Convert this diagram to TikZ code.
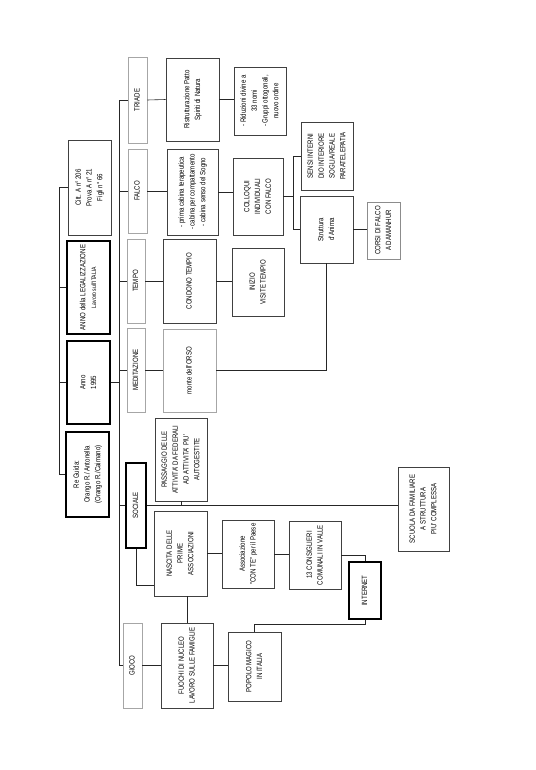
\documentclass[tikz,border=0pt]{standalone}
\usepackage{fontspec}
\setmainfont{Liberation Sans}[FakeStretch=0.8]
\usepackage{graphicx}
\usetikzlibrary{calc}

\newcommand{\vt}[1]{\rotatebox{90}{\begin{tabular}{@{}c@{}}#1\end{tabular}}}

\begin{document}
\begin{tikzpicture}[
  x=1pt, y=-1pt,
  font=\fontsize{7.6}{10.8}\selectfont,
  cell/.style={draw=black!75, line width=0.6pt, fill=white, inner sep=0pt},
  key/.style={cell, draw=black, line width=1.4pt},
  tag/.style={cell, draw=black!35},
  link/.style={line width=0.6pt, black!85},
]
\useasboundingbox (0,0) rectangle (535,770);

% ---------- Riga principale ----------
\node[cell, minimum width=43pt, minimum height=95pt] (citt) at (89.5,187.5)
  {\vt{Citt. A n° 206\\Prova A n° 21\\Figli n° 66}};
\node[key, minimum width=43pt, minimum height=93pt] (legal) at (88.5,287.5)
  {\vt{ANNO della LEGALIZZAZIONE\\\fontsize{6.4}{9.5}\selectfont Lavoro sull'ITALIA}};
\node[key, minimum width=43pt, minimum height=83pt] (anno) at (88.5,382.5)
  {\vt{Anno\\1995}};
\node[key, minimum width=43pt, minimum height=85pt] (guida) at (87.5,474.5)
  {\vt{Re Guida:\\Orango R./ Antonella\\(Orango R./Caimano)}};

% ---------- Rami ----------
\node[tag, minimum width=19pt, minimum height=86pt] (triade) at (137.5,100) {\vt{TRIADE}};
\node[tag, minimum width=19pt, minimum height=84pt] (falco) at (137.5,191) {\vt{FALCO}};
\node[tag, minimum width=18pt, minimum height=84pt] (tempo) at (136,281) {\vt{TEMPO}};
\node[tag, minimum width=18pt, minimum height=84pt] (medit) at (136,370) {\vt{MEDITAZIONE}};
\node[key, minimum width=20pt, minimum height=85pt] (sociale) at (136,505.5) {\vt{SOCIALE}};
\node[tag, minimum width=19pt, minimum height=85pt] (gioco) at (132.5,665.5) {\vt{GIOCO}};

% ---------- Secondo livello ----------
\node[cell, minimum width=53pt, minimum height=83pt] (ristr) at (192.5,99.5)
  {\vt{Ristrutturazione Patto\\Spiriti di Natura}};
\node[cell, minimum width=51pt, minimum height=86pt] (cabina) at (192.5,192)
  {\vt{- prima cabina terapeutica\\- cabina per compattamento\\- cabina senso del Sogno}};
\node[cell, minimum width=53pt, minimum height=84pt] (condono) at (189.5,281)
  {\vt{CONDONO TEMPIO}};
\node[tag, minimum width=53pt, minimum height=83pt] (monte) at (189.5,370.5)
  {\vt{monte dell'ORSO}};
\node[cell, minimum width=52pt, minimum height=83pt] (passaggio) at (181,459.5)
  {\vt{PASSAGGIO DELLE\\ATTIVITA' DA FEDERALI\\AD ATTIVITA' PIU'\\AUTOGESTITE}};
\node[cell, minimum width=53pt, minimum height=85pt] (nascita) at (180.5,553.5)
  {\vt{NASCITA DELLE\\PRIME\\ASSOCIAZIONI}};
\node[cell, minimum width=52pt, minimum height=85pt] (fuochi) at (187,665.5)
  {\vt{FUOCHI DI NUCLEO\\LAVORO SULLE FAMIGLIE}};

% ---------- Terzo livello ----------
\node[cell, minimum width=52pt, minimum height=68pt] (riduz) at (260,101)
  {\vt{- Riduzioni divine a\\33 nomi\\- Gruppi ottogonali,\\nuovo ordine}};
\node[cell, minimum width=50pt, minimum height=77pt] (colloqui) at (258,196.5)
  {\vt{COLLOQUI\\INDIVIDUALI\\CON FALCO}};
\node[cell, minimum width=52pt, minimum height=68pt] (inizio) at (258,282)
  {\vt{INIZIO\\VISITE TEMPIO}};
\node[cell, minimum width=52pt, minimum height=68pt] (assoc) at (248,554)
  {\vt{Associazione\\"CON TE" per il Paese}};
\node[cell, minimum width=53pt, minimum height=69pt] (popolo) at (254.5,666.5)
  {\vt{POPOLO MAGICO\\IN ITALIA}};

% ---------- Quarto livello ----------
\node[cell, minimum width=52pt, minimum height=68pt] (consig) at (315,555)
  {\vt{13 CONSIGLIERI\\COMUNALI IN VALLE}};
\node[cell, minimum width=52pt, minimum height=68pt] (sensi) at (327,156)
  {\vt{SENSI INTERNI\\DIO INTERIORE\\SOGLIA/REALE\\PARATELEPATIA}};
\node[cell, minimum width=53pt, minimum height=67pt] (strutt) at (326.5,229.5)
  {\vt{Struttura\\d'Anima}};
\node[cell, draw=black!45, line width=1pt, minimum width=33pt, minimum height=57pt] (corsi) at (383.5,230.5)
  {\vt{CORSI DI FALCO\\A DAMANHUR}};
\node[key, minimum width=32pt, minimum height=57pt] (internet) at (365,590.5)
  {\vt{INTERNET}};
\node[cell, minimum width=51pt, minimum height=84pt] (scuola) at (423.5,509)
  {\vt{SCUOLA DA FAMILIARE\\A STRUTTURA\\PIU' COMPLESSA}};

% ---------- Collegamenti ----------
\coordinate (lbus) at (59,0);
\coordinate (rbus) at (119,0);
\draw[link] (citt.west) -- (citt.west -| lbus) -- (guida.west -| lbus) -- (guida.west);
\draw[link] (legal.west) -- (legal.west -| lbus);
\draw[link] (anno.west) -- (anno.west -| lbus);
\draw[link] (anno.east) -- (anno.east -| rbus);

\draw[link] (triade.west) -- (triade.west -| rbus) -- (gioco.west -| rbus) -- (gioco.west);
\draw[link] (falco.west) -- (falco.west -| rbus);
\draw[link] (tempo.west) -- (tempo.west -| rbus);
\draw[link] (medit.west) -- (medit.west -| rbus);
\draw[link] (sociale.west) -- (sociale.west -| rbus);

\draw[link] (triade.east) -- (ristr.west);
\draw[link] (ristr.east) -- (ristr.east -| riduz.west);
\draw[link] (falco.east) -- (falco.east -| cabina.west);
\draw[link] (cabina.east) -- (cabina.east -| colloqui.west);
\draw[link] (sensi.west) -| ($(colloqui.east)+(10,0)$) |- (strutt.west);
\draw[link] (colloqui.east) -- ++(10,0);
\draw[link] (strutt.east) -- (strutt.east -| corsi.west);
\draw[link] (tempo.east) -- (condono.west);
\draw[link] (condono.east) -- (condono.east -| inizio.west);
\draw[link] (medit.east) -- (medit.east -| monte.west);
\draw[link] (monte.east) -| (strutt.south);

\draw[link] (sociale.east) -- (sociale.east -| scuola.west);
\draw[link] (passaggio.south) -- (passaggio.south |- sociale.east);
\draw[link] (sociale.south) |- ([yshift=11pt]nascita.south west);
\draw[link] (nascita.east) -- (nascita.east -| assoc.west);
\draw[link] (assoc.east) -- (assoc.east -| consig.west);
\draw[link] (consig.east) -| (internet.north);
\draw[link] (fuochi.north) -- (fuochi.north |- nascita.south);
\draw[link] (gioco.east) -- (gioco.east -| fuochi.west);
\draw[link] (fuochi.east) -- (fuochi.east -| popolo.west);
\draw[link] (popolo.north) -- ++(0,-7) -| (internet.south);
\end{tikzpicture}
\end{document}
